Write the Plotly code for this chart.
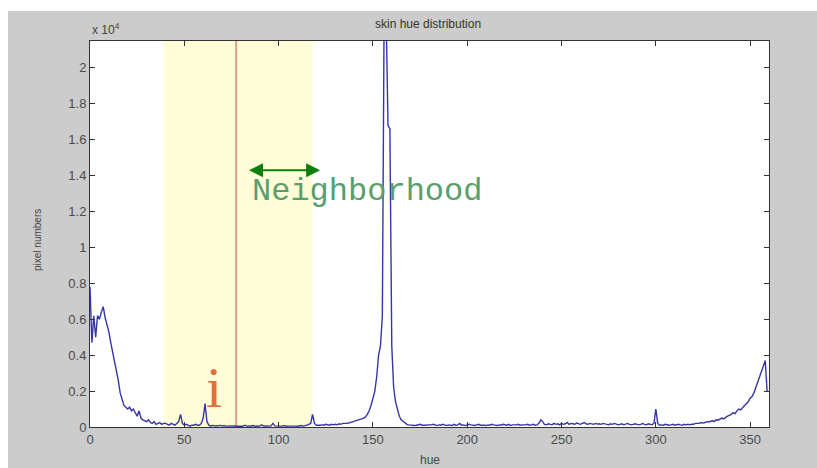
import plotly.graph_objects as go

# hue bins 0..359, pixel counts in units of 10^4
counts_1e4 = [
    0.78, 0.47, 0.62, 0.50, 0.62, 0.60, 0.64, 0.67, 0.61, 0.57,
    0.53, 0.47, 0.42, 0.37, 0.31, 0.26, 0.19, 0.15, 0.12, 0.11,
    0.10, 0.11, 0.09, 0.10, 0.08, 0.06, 0.09, 0.05, 0.04, 0.035,
    0.03, 0.04, 0.025, 0.02, 0.03, 0.015, 0.02, 0.025, 0.015, 0.02,
    0.02, 0.015, 0.01, 0.02, 0.015, 0.01, 0.02, 0.03, 0.07, 0.02,
    0.01, 0.015, 0.01, 0.005, 0.01, 0.01, 0.015, 0.01, 0.01, 0.02,
    0.05, 0.13, 0.03, 0.01, 0.005, 0.01, 0.005, 0.008, 0.005, 0.01,
    0.005, 0.008, 0.005, 0.006, 0.004, 0.008, 0.005, 0.006, 0.004, 0.005,
    0.006, 0.004, 0.01, 0.005, 0.006, 0.004, 0.008, 0.005, 0.004, 0.006,
    0.005, 0.012, 0.005, 0.006, 0.004, 0.005, 0.006, 0.02, 0.006, 0.005,
    0.004, 0.006, 0.005, 0.008, 0.004, 0.005, 0.006, 0.004, 0.006, 0.005,
    0.004, 0.006, 0.008, 0.005, 0.006, 0.01, 0.015, 0.02, 0.07, 0.02,
    0.01, 0.008, 0.01, 0.012, 0.01, 0.015, 0.012, 0.01, 0.015, 0.012,
    0.015, 0.012, 0.018, 0.015, 0.02, 0.018, 0.02, 0.022, 0.025, 0.028,
    0.03, 0.032, 0.035, 0.04, 0.045, 0.05, 0.055, 0.07, 0.09, 0.12,
    0.16, 0.20, 0.28, 0.40, 0.45, 0.62, 2.40, 2.30, 1.68, 1.66,
    0.45, 0.22, 0.14, 0.09, 0.06, 0.04, 0.03, 0.02, 0.015, 0.012,
    0.01, 0.012, 0.008, 0.01, 0.012, 0.015, 0.01, 0.008, 0.01, 0.012,
    0.01, 0.012, 0.015, 0.01, 0.008, 0.012, 0.01, 0.015, 0.01, 0.008,
    0.012, 0.01, 0.008, 0.015, 0.01, 0.012, 0.02, 0.01, 0.012, 0.008,
    0.01, 0.015, 0.012, 0.01, 0.008, 0.012, 0.015, 0.01, 0.012, 0.01,
    0.008, 0.012, 0.01, 0.015, 0.012, 0.01, 0.008, 0.012, 0.01, 0.015,
    0.012, 0.01, 0.015, 0.008, 0.012, 0.01, 0.012, 0.015, 0.01, 0.012,
    0.01, 0.012, 0.015, 0.01, 0.012, 0.015, 0.01, 0.012, 0.02, 0.04,
    0.03, 0.015, 0.012, 0.018, 0.015, 0.012, 0.02, 0.015, 0.018, 0.012,
    0.02, 0.015, 0.018, 0.025, 0.015, 0.02, 0.018, 0.015, 0.022, 0.018,
    0.015, 0.02, 0.025, 0.018, 0.015, 0.02, 0.018, 0.015, 0.02, 0.016,
    0.018, 0.015, 0.02, 0.018, 0.015, 0.012, 0.018, 0.015, 0.02, 0.015,
    0.012, 0.015, 0.018, 0.012, 0.015, 0.02, 0.015, 0.012, 0.015, 0.018,
    0.015, 0.012, 0.015, 0.02, 0.015, 0.012, 0.018, 0.015, 0.012, 0.02,
    0.10, 0.02, 0.01, 0.012, 0.01, 0.015, 0.012, 0.01, 0.012, 0.015,
    0.01, 0.012, 0.015, 0.012, 0.01, 0.015, 0.012, 0.015, 0.012, 0.015,
    0.015, 0.02, 0.018, 0.02, 0.025, 0.022, 0.025, 0.03, 0.028, 0.03,
    0.035, 0.03, 0.04, 0.038, 0.045, 0.05, 0.045, 0.055, 0.06, 0.065,
    0.07, 0.08, 0.075, 0.09, 0.10, 0.095, 0.11, 0.12, 0.13, 0.14,
    0.16, 0.17, 0.19, 0.22, 0.25, 0.28, 0.32, 0.34, 0.37, 0.20,
]
hues = list(range(len(counts_1e4)))

x_ticks = [0, 50, 100, 150, 200, 250, 300, 350]
y_ticks = [0, 0.2, 0.4, 0.6, 0.8, 1, 1.2, 1.4, 1.6, 1.8, 2]
y_tick_text = ["0", "0.2", "0.4", "0.6", "0.8", "1", "1.2", "1.4", "1.6", "1.8", "2"]

band = [39, 118]     # neighborhood band (hue)
center_i = 77.5      # position i
arrow_from, arrow_to, arrow_y = 83.5, 122, 1.43

W, H = 817, 468
L, R, T, B = 90, 48, 41, 41
pw, ph = W - L - R, H - T - B

def px_to_paper_x(px):
    return (px - L) / pw

def py_to_paper_y(py):
    return (H - B - py) / ph

fig = go.Figure()
fig.add_trace(go.Scatter(
    x=hues, y=counts_1e4, mode="lines",
    line=dict(color="#3535a8", width=1.4),
    hoverinfo="skip", showlegend=False,
))

tickfont = dict(family="Liberation Sans, Arial, sans-serif", size=13, color="#4a4a4a")
axis_common = dict(
    showline=True, linecolor="#333333", linewidth=1, mirror="ticks",
    ticks="inside", ticklen=5, tickcolor="#333333", showgrid=False,
    zeroline=False, tickfont=tickfont,
)
fig.update_xaxes(range=[0, 360], tickvals=x_ticks, **axis_common)
fig.update_yaxes(range=[0, 2.15], tickvals=y_ticks, ticktext=y_tick_text, **axis_common)

shapes = [
    # white strips outside the grey figure area
    dict(type="rect", xref="paper", yref="paper",
         x0=px_to_paper_x(0), x1=px_to_paper_x(W + 5),
         y0=py_to_paper_y(11), y1=py_to_paper_y(-5),
         fillcolor="white", line=dict(width=0), layer="below"),
    dict(type="rect", xref="paper", yref="paper",
         x0=px_to_paper_x(-5), x1=px_to_paper_x(8),
         y0=py_to_paper_y(H + 5), y1=py_to_paper_y(-5),
         fillcolor="white", line=dict(width=0), layer="below"),
    # neighborhood band
    dict(type="rect", xref="x", yref="paper", x0=band[0], x1=band[1], y0=0, y1=1,
         fillcolor="#fefdd8", line=dict(width=0), layer="below"),
    # position i
    dict(type="line", xref="x", yref="paper", x0=center_i, x1=center_i, y0=0, y1=1,
         line=dict(color="#d8a08a", width=2), layer="below"),
]

annotations = [
    dict(text="skin hue distribution", xref="paper", yref="paper",
         x=px_to_paper_x(428), y=py_to_paper_y(24), xanchor="center", yanchor="middle",
         showarrow=False,
         font=dict(family="Liberation Sans, Arial, sans-serif", size=12, color="#333333")),
    dict(text="x 10<sup>4</sup>", xref="paper", yref="paper",
         x=px_to_paper_x(90), y=py_to_paper_y(29), xanchor="left", yanchor="middle",
         showarrow=False,
         font=dict(family="Liberation Sans, Arial, sans-serif", size=12, color="#444444")),
    dict(text="pixel numbers", xref="paper", yref="paper", textangle=-90,
         x=px_to_paper_x(37), y=py_to_paper_y(240), xanchor="center", yanchor="middle",
         showarrow=False,
         font=dict(family="Liberation Sans, Arial, sans-serif", size=10, color="#444444")),
    dict(text="hue", xref="paper", yref="paper",
         x=px_to_paper_x(430), y=py_to_paper_y(460), xanchor="center", yanchor="middle",
         showarrow=False,
         font=dict(family="Liberation Sans, Arial, sans-serif", size=12, color="#444444")),
    dict(text="i", xref="x", yref="y", x=66, y=0.22, xanchor="center", yanchor="middle",
         showarrow=False,
         font=dict(family="Liberation Serif, DejaVu Serif, serif", size=58, color="#e0703a")),
    dict(text="Neighborhood", xref="paper", yref="paper",
         x=px_to_paper_x(367), y=py_to_paper_y(192), xanchor="center", yanchor="middle",
         showarrow=False,
         font=dict(family="Liberation Mono, Courier New, monospace", size=32, color="#5a9e6a")),
    dict(text="", xref="x", yref="y", x=arrow_to, y=arrow_y,
         ax=arrow_from, ay=arrow_y, axref="x", ayref="y",
         showarrow=True, arrowhead=2, arrowside="end+start",
         arrowsize=1.4, arrowwidth=2, arrowcolor="#0a7f0a"),
]

fig.update_layout(
    width=W, height=H,
    margin=dict(l=L, r=R, t=T, b=B),
    paper_bgcolor="#cccccc", plot_bgcolor="white",
    shapes=shapes, annotations=annotations,
    showlegend=False,
)

fig.write_html("out.html")
